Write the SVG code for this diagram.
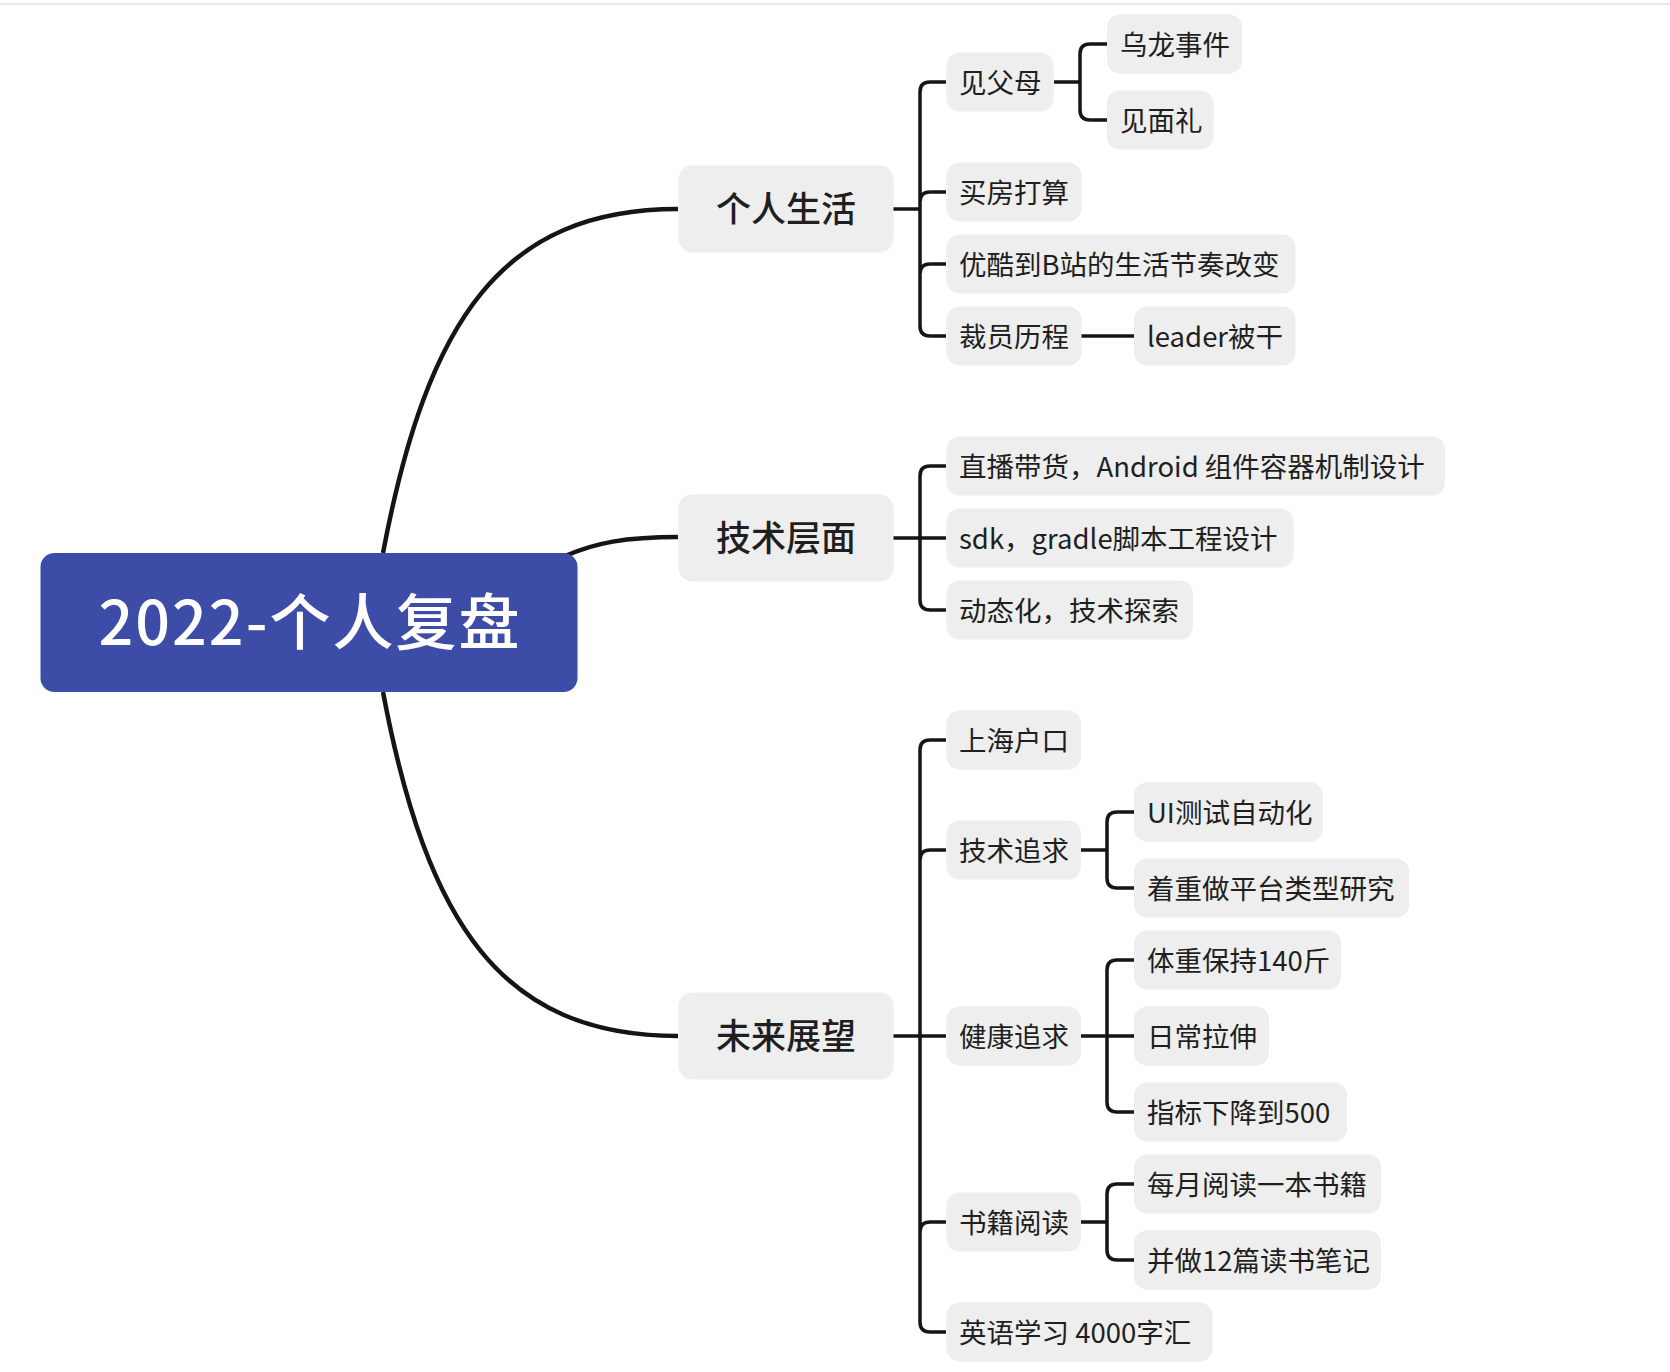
<svg xmlns="http://www.w3.org/2000/svg" width="1670" height="1372" viewBox="0 0 1670 1372">
<style>
text{font-family:"Noto Sans CJK SC","Noto Sans",sans-serif;fill:#1f1f1f;dominant-baseline:central}
.n2 rect{fill:#eeeeee}
.n2 text{font-size:27.5px}
.n1 rect{fill:#eeeeee}
.n1 text{font-size:35px;font-weight:500;text-anchor:middle}
.c{fill:none;stroke:#151515;stroke-width:3.5;stroke-linecap:butt}
.m{fill:none;stroke:#151515;stroke-width:4.5}
</style>
<rect x="0" y="3" width="1670" height="2" fill="#e6e6e6"/>
<g id="connectors">
<path class="m" d="M383 553 C427 320 502 209 678 209"/>
<path class="m" d="M565 556 C595 543 625 537 678 537"/>
<path class="m" d="M383 692 C427 925 502 1036 678 1036"/>
<path class="c" d="M893 209 H920 M946 82 H930 Q920 82 920 92 V326 Q920 336 930 336 H946 M920 202 Q920 192 930 192 H946 M920 274 Q920 264 930 264 H946"/>
<path class="c" d="M1054 82 H1080 M1107 44 H1090 Q1080 44 1080 54 V110 Q1080 120 1090 120 H1107"/>
<path class="c" d="M1081 336 H1134"/>
<path class="c" d="M893 538 H946 M946 466 H930 Q920 466 920 476 V600 Q920 610 930 610 H946"/>
<path class="c" d="M893 1036 H946 M946 740 H930 Q920 740 920 750 V1322 Q920 1332 930 1332 H946 M920 860 Q920 850 930 850 H946 M920 1232 Q920 1222 930 1222 H946"/>
<path class="c" d="M1081 850 H1107 M1134 812 H1117 Q1107 812 1107 822 V878 Q1107 888 1117 888 H1134"/>
<path class="c" d="M1081 1036 H1134 M1134 960 H1117 Q1107 960 1107 970 V1102 Q1107 1112 1117 1112 H1134"/>
<path class="c" d="M1081 1222 H1107 M1134 1184 H1117 Q1107 1184 1107 1194 V1250 Q1107 1260 1117 1260 H1134"/>
</g>
<g id="root"><rect x="40.5" y="553" width="537" height="139" rx="14" fill="#3d4ca6"/><text x="310" y="618" font-size="61" font-weight="500" letter-spacing="2" text-anchor="middle" style="fill:#ffffff">2022-个人复盘</text></g>
<g id="n-life" class="n1"><rect x="678.5" y="165.5" width="215" height="87" rx="14"/><text x="786" y="206">个人生活</text></g>
<g id="n-tech" class="n1"><rect x="678.5" y="494.5" width="215" height="87" rx="14"/><text x="786" y="535">技术层面</text></g>
<g id="n-future" class="n1"><rect x="678.5" y="992.5" width="215" height="87" rx="14"/><text x="786" y="1033">未来展望</text></g>
<g id="n-parents" class="n2"><rect x="946.5" y="52.5" width="107" height="59" rx="13"/><text x="959" y="80.5">见父母</text></g>
<g id="n-wulong" class="n2"><rect x="1107" y="14.5" width="135" height="59" rx="13"/><text x="1120" y="42.5">乌龙事件</text></g>
<g id="n-gift" class="n2"><rect x="1107" y="90.5" width="106.5" height="59" rx="13"/><text x="1120" y="118.5">见面礼</text></g>
<g id="n-house" class="n2"><rect x="946.5" y="162.5" width="135" height="59" rx="13"/><text x="959" y="190.5">买房打算</text></g>
<g id="n-youku" class="n2"><rect x="946.5" y="234.5" width="349" height="59" rx="13"/><text x="959" y="262.5">优酷到B站的生活节奏改变</text></g>
<g id="n-layoff" class="n2"><rect x="946.5" y="306.5" width="135" height="59" rx="13"/><text x="959" y="334.5">裁员历程</text></g>
<g id="n-leader" class="n2"><rect x="1134" y="306.5" width="161.5" height="59" rx="13"/><text x="1147" y="334.5">leader被干</text></g>
<g id="n-live" class="n2"><rect x="946.5" y="436.5" width="498.5" height="59" rx="13"/><text x="959" y="464.5">直播带货，Android 组件容器机制设计</text></g>
<g id="n-sdk" class="n2"><rect x="946.5" y="508.5" width="347" height="59" rx="13"/><text x="959" y="536.5">sdk，gradle脚本工程设计</text></g>
<g id="n-dyn" class="n2"><rect x="946.5" y="580.5" width="246.5" height="59" rx="13"/><text x="959" y="608.5">动态化，技术探索</text></g>
<g id="n-hukou" class="n2"><rect x="946.5" y="710.5" width="134.5" height="59" rx="13"/><text x="959" y="738.5">上海户口</text></g>
<g id="n-techgoal" class="n2"><rect x="946.5" y="820.5" width="134.5" height="59" rx="13"/><text x="959" y="848.5">技术追求</text></g>
<g id="n-ui" class="n2"><rect x="1134" y="782.5" width="189" height="59" rx="13"/><text x="1147" y="810.5">UI测试自动化</text></g>
<g id="n-platform" class="n2"><rect x="1134" y="858.5" width="275" height="59" rx="13"/><text x="1147" y="886.5">着重做平台类型研究</text></g>
<g id="n-health" class="n2"><rect x="946.5" y="1006.5" width="134.5" height="59" rx="13"/><text x="959" y="1034.5">健康追求</text></g>
<g id="n-weight" class="n2"><rect x="1134" y="930.5" width="207" height="59" rx="13"/><text x="1147" y="958.5">体重保持140斤</text></g>
<g id="n-stretch" class="n2"><rect x="1134" y="1006.5" width="135" height="59" rx="13"/><text x="1147" y="1034.5">日常拉伸</text></g>
<g id="n-index" class="n2"><rect x="1134" y="1082.5" width="213" height="59" rx="13"/><text x="1147" y="1110.5">指标下降到500</text></g>
<g id="n-books" class="n2"><rect x="946.5" y="1192.5" width="134.5" height="59" rx="13"/><text x="959" y="1220.5">书籍阅读</text></g>
<g id="n-monthly" class="n2"><rect x="1134" y="1154.5" width="247" height="59" rx="13"/><text x="1147" y="1182.5">每月阅读一本书籍</text></g>
<g id="n-notes" class="n2"><rect x="1134" y="1230.5" width="247" height="59" rx="13"/><text x="1147" y="1258.5">并做12篇读书笔记</text></g>
<g id="n-english" class="n2"><rect x="946.5" y="1302.5" width="266" height="59" rx="13"/><text x="959" y="1330.5">英语学习 4000字汇</text></g>
</svg>
